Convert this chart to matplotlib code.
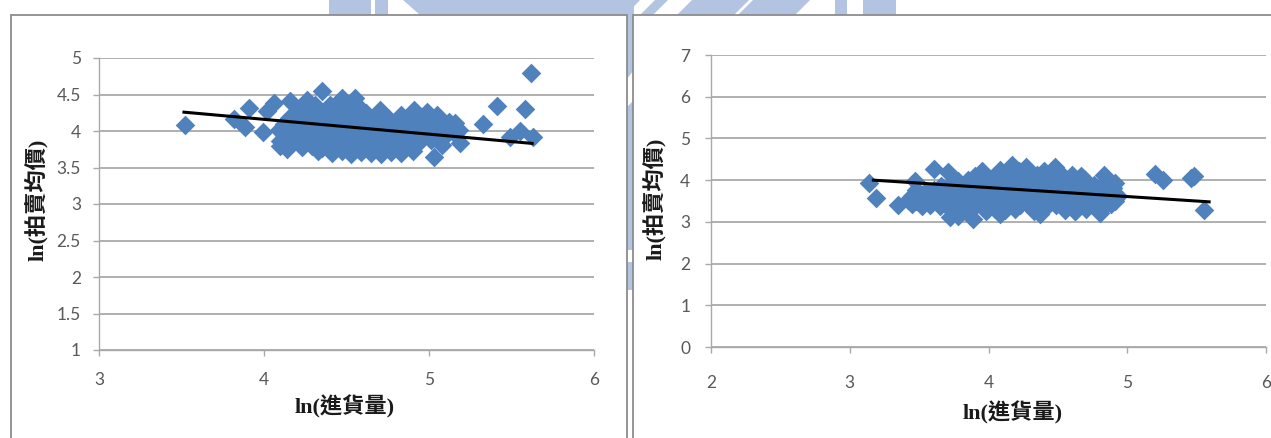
import matplotlib.pyplot as plt
from matplotlib.patches import Polygon, Rectangle
from matplotlib.ticker import FormatStrFormatter
from matplotlib.transforms import Affine2D

W, H = 1271, 438

# ln(進貨量) vs ln(拍賣均價), first sample
left_x = [
    3.52, 3.82, 3.885, 3.91, 3.995, 4.02, 4.06, 4.16, 4.10, 4.14, 4.35, 4.26, 4.47, 4.55, 5.03,
    5.19, 5.33, 5.41, 5.49, 5.55, 5.58, 5.62, 5.63, 4.91, 4.99, 5.05, 5.12, 5.16, 4.70, 5.08,
    4.33, 4.90,
    4.41, 4.47, 4.53, 4.59, 4.65, 4.71, 4.77, 4.83,
    4.23, 4.29, 4.35, 4.44, 4.50, 4.56, 4.62, 4.68, 4.74, 4.80, 4.86, 4.92,
    4.10, 4.16, 4.22, 4.28, 4.34, 4.40, 4.46, 4.53, 4.59, 4.65, 4.71, 4.77, 4.83, 4.89, 4.95, 5.01, 5.07,
    4.12, 4.18, 4.25, 4.31, 4.37, 4.43, 4.49, 4.55, 4.62, 4.68, 4.74, 4.80, 4.86, 4.92, 4.98, 5.04, 5.10, 5.16,
    4.09, 4.15, 4.21, 4.27, 4.33, 4.40, 4.46, 4.52, 4.58, 4.64, 4.70, 4.77, 4.83, 4.89, 4.95, 5.01, 5.07, 5.13, 5.18,
    4.12, 4.18, 4.24, 4.30, 4.37, 4.43, 4.49, 4.55, 4.61, 4.67, 4.73, 4.80, 4.86, 4.92, 4.98, 5.04, 5.10,
    4.15, 4.21, 4.27, 4.33, 4.39, 4.46, 4.52, 4.58, 4.64, 4.70, 4.76, 4.83, 4.89, 4.95,
    4.20, 4.26, 4.32, 4.38, 4.44, 4.50, 4.56, 4.62, 4.70, 4.83, 4.93,
    4.24, 4.31, 4.40, 4.47, 4.53, 4.58,
]
left_y = [
    4.08, 4.16, 4.05, 4.32, 3.98, 4.27, 4.39, 4.41, 3.79, 3.75, 4.55, 4.43, 4.45, 4.45, 3.65,
    3.84, 4.09, 4.34, 3.92, 4.00, 4.30, 4.80, 3.92, 4.29, 4.26, 4.22, 4.13, 4.11, 4.29, 3.81,
    3.73, 3.72,
    3.70, 3.72, 3.69, 3.71, 3.70, 3.68, 3.71, 3.70,
    3.78, 3.80, 3.77, 3.79, 3.81, 3.78, 3.80, 3.79, 3.77, 3.80, 3.78, 3.81,
    3.86, 3.88, 3.87, 3.85, 3.88, 3.86, 3.89, 3.87, 3.85, 3.88, 3.86, 3.87, 3.89, 3.86, 3.88, 3.87, 3.89,
    3.94, 3.96, 3.95, 3.93, 3.96, 3.94, 3.95, 3.97, 3.94, 3.95, 3.93, 3.96, 3.95, 3.94, 3.96, 3.95, 3.93, 3.96,
    4.02, 4.04, 4.03, 4.01, 4.04, 4.02, 4.03, 4.05, 4.02, 4.03, 4.01, 4.04, 4.03, 4.02, 4.04, 4.03, 4.01, 4.04, 4.02,
    4.10, 4.12, 4.11, 4.09, 4.12, 4.10, 4.11, 4.13, 4.10, 4.11, 4.09, 4.12, 4.11, 4.10, 4.12, 4.11, 4.10,
    4.18, 4.20, 4.19, 4.17, 4.20, 4.18, 4.19, 4.21, 4.18, 4.19, 4.17, 4.20, 4.19, 4.18,
    4.26, 4.28, 4.27, 4.25, 4.28, 4.26, 4.27, 4.25, 4.24, 4.22, 4.22,
    4.34, 4.36, 4.35, 4.33, 4.36, 4.32,
]
left_trend_x = [3.515, 5.625]
left_trend_y = [4.258, 3.830]

# second sample
right_x = [
    3.14, 3.19, 3.35, 3.47, 3.61, 3.71, 3.72, 3.89, 3.78, 4.08, 4.37, 4.62, 4.80, 5.20, 5.26,
    5.46, 5.48, 5.55, 4.91, 4.83, 4.27, 4.17, 4.48,
    3.74, 3.80, 3.87, 3.98, 4.05, 4.12, 4.19, 4.33, 4.40, 4.55, 4.62, 4.70, 4.80,
    3.45, 3.52, 3.58, 3.65, 3.71, 3.78, 3.84, 3.91, 3.97, 4.04, 4.10, 4.17, 4.23, 4.30, 4.36, 4.43,
    4.49, 4.56, 4.62, 4.69, 4.75, 4.82, 4.88,
    3.42, 3.48, 3.55, 3.61, 3.68, 3.74, 3.81, 3.87, 3.94, 4.00, 4.07, 4.13, 4.20, 4.26, 4.33, 4.39,
    4.46, 4.52, 4.59, 4.65, 4.72, 4.78, 4.85, 4.91,
    3.45, 3.51, 3.58, 3.64, 3.71, 3.77, 3.84, 3.90, 3.97, 4.03, 4.10, 4.16, 4.23, 4.29, 4.36, 4.42,
    4.49, 4.55, 4.62, 4.68, 4.75, 4.81, 4.88, 4.93,
    3.48, 3.55, 3.61, 3.68, 3.74, 3.81, 3.87, 3.94, 4.00, 4.07, 4.13, 4.20, 4.26, 4.33, 4.39, 4.46,
    4.52, 4.59, 4.65, 4.72, 4.78, 4.85, 4.90,
    3.66, 3.72, 3.79, 3.85, 3.92, 3.98, 4.05, 4.11, 4.18, 4.24, 4.31, 4.37, 4.44, 4.50, 4.57, 4.63,
    4.70, 4.76, 4.82,
    3.78, 3.85, 3.91, 3.98, 4.04, 4.11, 4.17, 4.24, 4.30, 4.37, 4.43, 4.50, 4.56, 4.63, 4.69,
    3.90, 3.96, 4.05, 4.12, 4.20, 4.27, 4.35, 4.45, 4.52, 4.60, 4.67,
    3.95, 4.08, 4.22, 4.28, 4.40, 4.50,
]
right_y = [
    3.93, 3.57, 3.40, 3.98, 4.26, 4.20, 3.12, 3.07, 3.15, 3.18, 3.20, 3.25, 3.22, 4.15, 4.00,
    4.04, 4.10, 3.28, 3.93, 4.12, 4.31, 4.36, 4.31,
    3.27, 3.25, 3.30, 3.26, 3.31, 3.28, 3.30, 3.27, 3.31, 3.29, 3.26, 3.30, 3.28,
    3.42, 3.39, 3.41, 3.38, 3.42, 3.40, 3.37, 3.41, 3.39, 3.42, 3.38, 3.40, 3.41, 3.39, 3.37, 3.42,
    3.40, 3.38, 3.41, 3.39, 3.42, 3.40, 3.43,
    3.53, 3.50, 3.52, 3.54, 3.51, 3.53, 3.50, 3.52, 3.54, 3.51, 3.53, 3.52, 3.50, 3.54, 3.52, 3.51,
    3.53, 3.50, 3.52, 3.54, 3.51, 3.53, 3.52, 3.50,
    3.63, 3.65, 3.62, 3.64, 3.66, 3.63, 3.65, 3.62, 3.64, 3.66, 3.63, 3.65, 3.64, 3.62, 3.66, 3.64,
    3.63, 3.65, 3.62, 3.64, 3.66, 3.63, 3.65, 3.62,
    3.77, 3.74, 3.76, 3.78, 3.75, 3.77, 3.74, 3.76, 3.78, 3.75, 3.77, 3.76, 3.74, 3.78, 3.76, 3.75,
    3.77, 3.74, 3.76, 3.78, 3.75, 3.77, 3.80,
    3.87, 3.89, 3.86, 3.88, 3.90, 3.87, 3.89, 3.86, 3.88, 3.90, 3.87, 3.89, 3.88, 3.86, 3.90, 3.88,
    3.87, 3.89, 3.86,
    3.99, 4.01, 3.98, 4.02, 4.00, 3.99, 4.01, 4.03, 3.99, 4.00, 4.02, 3.98, 4.01, 3.99, 4.02,
    4.11, 4.13, 4.10, 4.14, 4.12, 4.11, 4.13, 4.12, 4.10, 4.13, 4.11,
    4.22, 4.24, 4.21, 4.25, 4.22, 4.23,
]
right_trend_x = [3.17, 5.59]
right_trend_y = [4.00, 3.48]

x_title = 'ln(進貨量)'
y_title = 'ln(拍賣均價)'

left_xticks = [3, 4, 5, 6]
left_yticks = [1, 1.5, 2, 2.5, 3, 3.5, 4, 4.5, 5]
right_xticks = [2, 3, 4, 5, 6]
right_yticks = [0, 1, 2, 3, 4, 5, 6, 7]

blue = '#4f81bd'
grid_c = '#a9a9a9'
text_c = '#595959'
label_font = ['Liberation Serif', 'Noto Sans CJK TC', 'DejaVu Sans']

fig = plt.figure(figsize=(W / 100, H / 100), dpi=100)
# pixel coordinates, origin top-left
px = Affine2D().scale(1 / W, -1 / H).translate(0, 1) + fig.transFigure

# faint logo showing between the two chart boxes
wm = '#b3c3e2'
wm_shapes = [
    [(329, 0), (371, 0), (371, 15), (329, 15)],
    [(375, 0), (388, 0), (388, 15), (375, 15)],
    [(403, 0), (640, 0), (626, 15), (420, 15)],
    [(655, 0), (668, 0), (653, 15), (640, 15)],
    [(692, 0), (749, 0), (734, 15), (677, 15)],
    [(753, 0), (810, 0), (795, 15), (738, 15)],
    [(835, 0), (847, 0), (847, 15), (835, 15)],
    [(863, 0), (896, 0), (896, 15), (863, 15)],
    [(626, 0), (634, 0), (634, 70), (626, 80)],
    [(626, 108), (634, 100), (634, 250), (626, 250)],
    [(626, 262), (634, 262), (634, 290), (626, 290)],
]
for pts in wm_shapes:
    fig.add_artist(Polygon(pts, closed=True, transform=px, facecolor=wm,
                           edgecolor='none', zorder=-2))

# chart boxes
for x0, x1 in [(11, 627), (633, 1290)]:
    fig.add_artist(Rectangle((x0, 15), x1 - x0, 440, transform=px, facecolor='white',
                             edgecolor='#8c8c8c', linewidth=1.3, zorder=-1))


def style(ax, xlim, ylim, xticks, yticks, xpad, ypad):
    ax.patch.set_visible(False)
    ax.set_xlim(*xlim)
    ax.set_ylim(*ylim)
    ax.set_xticks(xticks)
    ax.set_yticks(yticks)
    ax.yaxis.set_major_formatter(FormatStrFormatter('%g'))
    ax.grid(axis='y', color=grid_c, linewidth=1.3)
    ax.set_axisbelow(True)
    for s in ['top', 'right']:
        ax.spines[s].set_visible(False)
    for s in ['left', 'bottom']:
        ax.spines[s].set_color(grid_c)
        ax.spines[s].set_linewidth(1.0)
    ax.tick_params(axis='both', direction='out', length=4, width=1, color=grid_c,
                   labelcolor=text_c, labelsize=12.5)
    ax.tick_params(axis='x', pad=xpad)
    ax.tick_params(axis='y', pad=ypad)
    for lab in ax.get_xticklabels() + ax.get_yticklabels():
        lab.set_family('Lato')


ax1 = fig.add_axes([99 / W, 88 / H, 495 / W, 292 / H])
ax1.scatter(left_x, left_y, marker='D', s=100, color=blue, linewidths=0, zorder=2, clip_on=False)
ax1.plot(left_trend_x, left_trend_y, color='black', linewidth=2.2, zorder=3)
style(ax1, (3, 6), (1, 5), left_xticks, left_yticks, 12, 9)

ax2 = fig.add_axes([711 / W, 91 / H, 555 / W, 292 / H])
ax2.scatter(right_x, right_y, marker='D', s=100, color=blue, linewidths=0, zorder=2, clip_on=False)
ax2.plot(right_trend_x, right_trend_y, color='black', linewidth=2.2, zorder=3)
style(ax2, (2, 6), (0, 7), right_xticks, right_yticks, 16, 11)

for (cx, cy), rot in [((345, 407), 0), ((1013, 413), 0), ((36, 200), 90), ((654, 199), 90)]:
    fig.text(cx / W, 1 - cy / H, x_title if rot == 0 else y_title, rotation=rot,
             ha='center', va='center', fontsize=16, fontweight='bold', color='#1a1a1a',
             family=label_font)

fig.savefig('out.png', dpi=100)
